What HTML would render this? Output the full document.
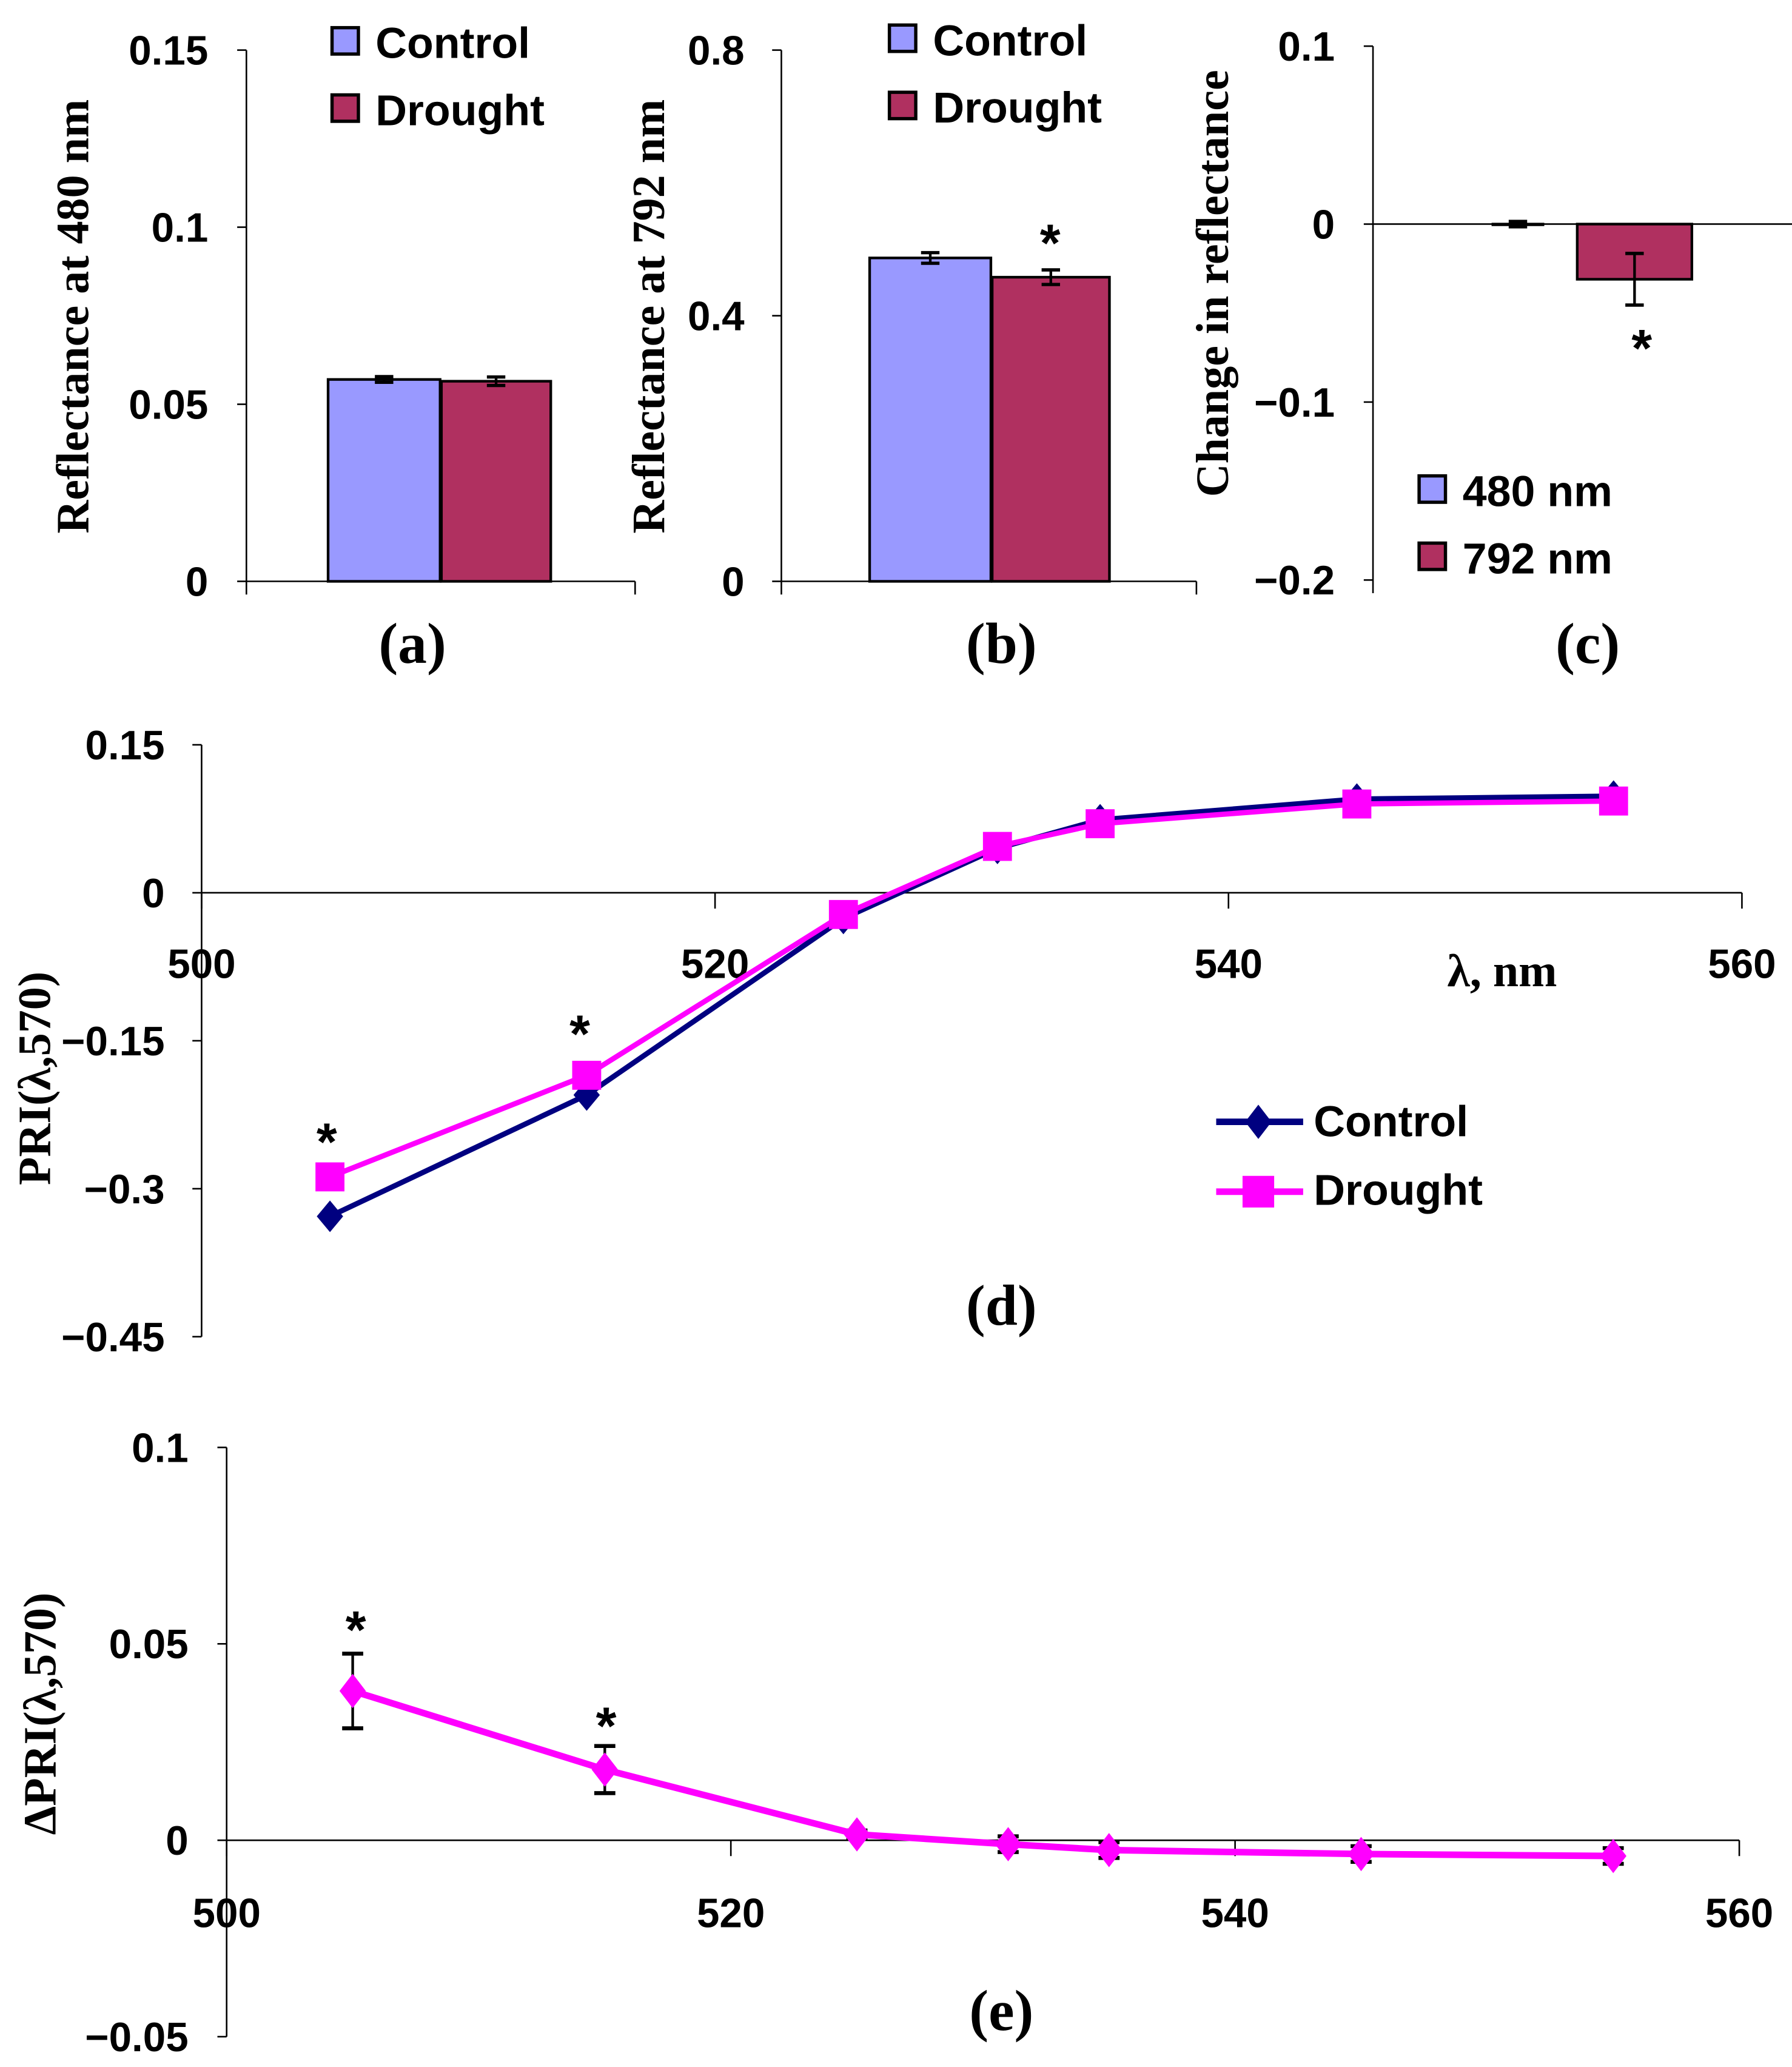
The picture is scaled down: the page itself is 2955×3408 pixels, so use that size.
<!DOCTYPE html>
<html><head><meta charset="utf-8"><style>
html,body{margin:0;padding:0;background:#fff;}
svg{display:block;}
.tk{font-family:"Liberation Sans",Arial,sans-serif;font-weight:bold;font-size:31px;fill:#000;}
.lg{font-family:"Liberation Sans",Arial,sans-serif;font-weight:bold;font-size:33px;fill:#000;}
.yl{font-family:"Liberation Serif","Times New Roman",serif;font-weight:bold;font-size:35px;fill:#000;}
.pl{font-family:"Liberation Serif","Times New Roman",serif;font-weight:bold;font-size:44px;fill:#000;}
.st{font-family:"Liberation Sans",Arial,sans-serif;font-weight:bold;font-size:40px;fill:#000;}
</style></head><body>
<svg id="fig" width="2955" height="3408" viewBox="0 0 1360 1568" preserveAspectRatio="none" xmlns="http://www.w3.org/2000/svg">
<rect width="1360" height="1568" fill="#fff"/>
<g id="root"></g>
</svg>
<script>
// ---- Panel a data ----
const aGroups = ["Control", "Drought"];
const aValues = [0.057, 0.0565];
const aErrors = [0.0008, 0.0012];
const aTicks = [0, 0.05, 0.1, 0.15];
const aTickLabels = ["0", "0.05", "0.1", "0.15"];
// ---- Panel b data ----
const bGroups = ["Control", "Drought"];
const bValues = [0.487, 0.458];
const bErrors = [0.008, 0.011];
const bTicks = [0, 0.4, 0.8];
const bTickLabels = ["0", "0.4", "0.8"];
// ---- Panel c data ----
const cGroups = ["480 nm", "792 nm"];
const cValues = [0.0, -0.031];
const cErrors = [0.0015, 0.0145];
const cTicks = [-0.2, -0.1, 0, 0.1];
const cTickLabels = ["\u22120.2", "\u22120.1", "0", "0.1"];
// ---- Panel d data ----
const wavelengths = [505, 515, 525, 531, 535, 545, 555];
const dControl = [-0.328, -0.205, -0.026, 0.045, 0.074, 0.095, 0.098];
const dDrought = [-0.288, -0.185, -0.022, 0.047, 0.070, 0.090, 0.093];
const dYTicks = [-0.45, -0.3, -0.15, 0, 0.15];
const dYTickLabels = ["\u22120.45", "\u22120.3", "\u22120.15", "0", "0.15"];
const xTicks = [500, 520, 540, 560];
const xTickLabels = ["500", "520", "540", "560"];
// ---- Panel e data ----
const eValues = [0.038, 0.018, 0.0015, -0.001, -0.0025, -0.0035, -0.004];
const eErrors = [0.0095, 0.006, 0.001, 0.002, 0.002, 0.002, 0.002];
const eYTicks = [-0.05, 0, 0.05, 0.1];
const eYTickLabels = ["\u22120.05", "0", "0.05", "0.1"];

const NS = "http://www.w3.org/2000/svg";
const root = document.getElementById("root");
function mk(tag, attrs, parent, text) {
  const e = document.createElementNS(NS, tag);
  for (const k in attrs) e.setAttribute(k, attrs[k]);
  if (text !== undefined) e.textContent = text;
  (parent || root).appendChild(e);
  return e;
}
function lin(d0, d1, r0, r1) { return v => r0 + (v - d0) / (d1 - d0) * (r1 - r0); }

function yAxis(g, x, y, ticks, labels, yBottom, lx) {
  const ax = mk("line", {x1: x, y1: y(ticks[ticks.length-1]), x2: x, y2: yBottom, stroke: "#000", "stroke-width": 1.2}, g);
  
  
  ticks.forEach((t, i) => {
    mk("line", {x1: x - 7, y1: y(t), x2: x, y2: y(t), stroke: "#000", "stroke-width": 1.2}, g);
    const tl = mk("text", {x: lx, y: y(t) + 11, "text-anchor": "end", class: "tk"}, g, labels[i]);
    
    
  });
}

function barPanel(name, x0, x1, y, ticks, labels, groups, vals, errs, bars, zeroY, bottomY, legendX, legendY, legendGap, lx) {
  const g = mk("g", {});
  
  
  yAxis(g, x0, y, ticks, labels, bottomY + 10, lx);
  const xa = mk("line", {x1: x0, y1: zeroY, x2: x1, y2: zeroY, stroke: "#000", "stroke-width": 1.2}, g);
  
  
  mk("line", {x1: x1, y1: zeroY, x2: x1, y2: zeroY + 10, stroke: "#000", "stroke-width": 1.2}, g);
  const cols = ["#9999ff", "#b03060"];
  vals.forEach((v, i) => {
    const [bx, bw] = bars[i];
    const yt = Math.min(y(v), y(0)), h = Math.abs(y(v) - y(0));
    const r = mk("rect", {x: bx, y: yt, width: bw, height: Math.max(h, 0.5), fill: cols[i], stroke: "#000", "stroke-width": 2}, g);
    
    
    const cx = bx + bw / 2;
    mk("line", {x1: cx, y1: y(v + errs[i]), x2: cx, y2: y(v - errs[i]), stroke: "#000", "stroke-width": 2}, g);
    [v + errs[i], v - errs[i]].forEach(e => mk("line", {x1: cx - 7, y1: y(e), x2: cx + 7, y2: y(e), stroke: "#000", "stroke-width": 2.5}, g));
  });
  groups.forEach((gname, i) => {
    const ly = legendY + i * legendGap;
    const sq = mk("rect", {x: legendX, y: ly - 11, width: 20, height: 20, fill: cols[i], stroke: "#000", "stroke-width": 2.5}, g);
    
    
    const t = mk("text", {x: legendX + 33, y: ly + 12, class: "lg"}, g, gname);
    
    
  });
  return g;
}

// Panel a
const ya = lin(0, 0.15, 441, 38);
barPanel("panel-a", 187, 482, ya, aTicks, aTickLabels, aGroups, aValues, aErrors, [[249, 85], [335, 83]], 441, 441, 252, 32, 51, 158);
mk("text", {x: 0, y: 0, class: "yl", "text-anchor": "middle", transform: "translate(67,240) rotate(-90)",  }, null, "Reflectance at 480 nm");
mk("text", {x: 313, y: 503, class: "pl", "text-anchor": "middle",  }, null, "(a)");

// Panel b
const yb = lin(0, 0.8, 441, 38);
barPanel("panel-b", 593, 908, yb, bTicks, bTickLabels, bGroups, bValues, bErrors, [[660, 92], [753, 89]], 441, 441, 675, 30, 51, 565);
mk("text", {x: 797, y: 198, class: "st", "text-anchor": "middle",  }, null, "*");
mk("text", {x: 0, y: 0, class: "yl", "text-anchor": "middle", transform: "translate(504,240) rotate(-90)",  }, null, "Reflectance at 792 nm");
mk("text", {x: 760, y: 503, class: "pl", "text-anchor": "middle",  }, null, "(b)");

// Panel c
const yc = lin(-0.2, 0.1, 440, 35);
barPanel("panel-c", 1042, 1362, yc, cTicks, cTickLabels, cGroups, cValues, cErrors, [[1133, 38], [1197, 87]], yc(0), 440, 1077, 372, 51, 1013);
mk("text", {x: 1246, y: 278, class: "st", "text-anchor": "middle",  }, null, "*");
mk("text", {x: 0, y: 0, class: "yl", "text-anchor": "middle", "font-size": "37", transform: "translate(932,215) rotate(-90)",  }, null, "Change in reflectance");
mk("text", {x: 1205, y: 503, class: "pl", "text-anchor": "middle",  }, null, "(c)");

// Panel d
(function () {
  const g = mk("g", {});
  
  
  const x = lin(500, 560, 153, 1322);
  const y = lin(-0.45, 0.15, 1014, 565);
  yAxis(g, 153, y, dYTicks, dYTickLabels, y(-0.45), 125);
  const xa = mk("line", {x1: 153, y1: y(0), x2: 1322, y2: y(0), stroke: "#000", "stroke-width": 1.2}, g);
  
  
  xTicks.forEach((t, i) => {
    mk("line", {x1: x(t), y1: y(0), x2: x(t), y2: y(0) + 12, stroke: "#000", "stroke-width": 1.2}, g);
    const tl = mk("text", {x: x(t), y: 742, "text-anchor": "middle", class: "tk"}, g, xTickLabels[i]);
    
    
  });
  mk("text", {x: 1140, y: 748, "text-anchor": "middle", class: "yl", "font-size": "30"}, g, "\u03bb, nm");
  const series = [[dControl, "#000080", "diamond", "control"], [dDrought, "#ff00ff", "square", "drought"]];
  series.forEach(([vals, col, shape, nm]) => {
    const pts = wavelengths.map((w, i) => x(w) + "," + y(vals[i])).join(" ");
    const pl = mk("polyline", {points: pts, fill: "none", stroke: col, "stroke-width": 4}, g);
    
    
    wavelengths.forEach((w, i) => {
      const cx = x(w), cy = y(vals[i]);
      let m;
      if (shape === "diamond") m = mk("polygon", {points: `${cx},${cy-12} ${cx+10},${cy} ${cx},${cy+12} ${cx-10},${cy}`, fill: col}, g);
      else m = mk("rect", {x: cx - 11, y: cy - 11, width: 22, height: 22, fill: col}, g);
      
      
    });
  });
  mk("text", {x: 248, y: 880, class: "st", "text-anchor": "middle"}, g, "*");
  mk("text", {x: 440, y: 798, class: "st", "text-anchor": "middle"}, g, "*");
  const l1 = mk("g", {}, g);  
  mk("line", {x1: 923, y1: 851, x2: 989, y2: 851, stroke: "#000080", "stroke-width": 5}, l1);
  mk("polygon", {points: "955,838 965,851 955,864 945,851", fill: "#000080"}, l1);
  mk("text", {x: 997, y: 862, class: "lg"}, l1, "Control");
  const l2 = mk("g", {}, g);  
  mk("line", {x1: 923, y1: 904, x2: 989, y2: 904, stroke: "#ff00ff", "stroke-width": 5}, l2);
  mk("rect", {x: 943, y: 892, width: 24, height: 24, fill: "#ff00ff"}, l2);
  mk("text", {x: 997, y: 914, class: "lg"}, l2, "Drought");
  mk("text", {x: 0, y: 0, class: "yl", "text-anchor": "middle", "font-size": "37", transform: "translate(38,818) rotate(-90)"}, g, "PRI(\u03bb,570)");
  mk("text", {x: 760, y: 1005, class: "pl", "text-anchor": "middle"}, g, "(d)");
})();

// Panel e
(function () {
  const g = mk("g", {});
  
  
  const x = lin(500, 560, 172, 1320);
  const y = lin(-0.05, 0.1, 1545, 1098);
  yAxis(g, 172, y, eYTicks, eYTickLabels, y(-0.05), 143);
  const xa = mk("line", {x1: 172, y1: y(0), x2: 1320, y2: y(0), stroke: "#000", "stroke-width": 1.2}, g);
  
  
  xTicks.forEach((t, i) => {
    mk("line", {x1: x(t), y1: y(0), x2: x(t), y2: y(0) + 12, stroke: "#000", "stroke-width": 1.2}, g);
    const tl = mk("text", {x: x(t), y: 1462, "text-anchor": "middle", class: "tk"}, g, xTickLabels[i]);
    
    
  });
  wavelengths.forEach((w, i) => {
    const cx = x(w), hi = y(eValues[i] + eErrors[i]), lo = y(eValues[i] - eErrors[i]);
    mk("line", {x1: cx, y1: hi, x2: cx, y2: lo, stroke: "#000", "stroke-width": 2}, g);
    mk("line", {x1: cx - 8, y1: hi, x2: cx + 8, y2: hi, stroke: "#000", "stroke-width": 3}, g);
    mk("line", {x1: cx - 8, y1: lo, x2: cx + 8, y2: lo, stroke: "#000", "stroke-width": 3}, g);
  });
  const pts = wavelengths.map((w, i) => x(w) + "," + y(eValues[i])).join(" ");
  const pl = mk("polyline", {points: pts, fill: "none", stroke: "#ff00ff", "stroke-width": 5}, g);
  
  
  wavelengths.forEach((w, i) => {
    const cx = x(w), cy = y(eValues[i]);
    const m = mk("polygon", {points: `${cx},${cy-13} ${cx+10},${cy} ${cx},${cy+13} ${cx-10},${cy}`, fill: "#ff00ff"}, g);
    
    
  });
  mk("text", {x: 270, y: 1250, class: "st", "text-anchor": "middle"}, g, "*");
  mk("text", {x: 460, y: 1323, class: "st", "text-anchor": "middle"}, g, "*");
  mk("text", {x: 0, y: 0, class: "yl", "text-anchor": "middle", "font-size": "37", transform: "translate(42,1300) rotate(-90)"}, g, "\u0394PRI(\u03bb,570)");
  mk("text", {x: 760, y: 1540, class: "pl", "text-anchor": "middle"}, g, "(e)");
})();
</script>
</body></html>
